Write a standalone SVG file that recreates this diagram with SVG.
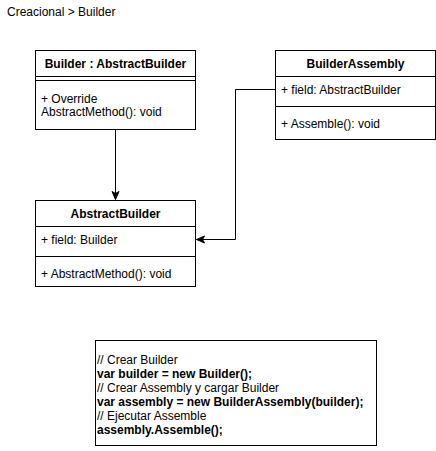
<svg xmlns="http://www.w3.org/2000/svg" width="436" height="451" viewBox="0 0 436 451">
<style>
text{font-family:"Liberation Sans",Arial,sans-serif;font-size:12px;fill:#000}
.b{font-weight:bold}
.c{text-anchor:middle}
.box{fill:#fff;stroke:#000;stroke-width:1}
.ln{stroke:#000;stroke-width:1;fill:none}
</style>
<defs>
<marker id="arr" viewBox="0 0 10 10" refX="9" refY="5" markerWidth="10" markerHeight="10" markerUnits="userSpaceOnUse" orient="auto">
<path d="M1,1.5 L9,5 L1,8.5 L3,5 Z" fill="#000" stroke="#000" stroke-width="1"/>
</marker>
</defs>
<rect width="436" height="451" fill="#fff"/>
<text x="7" y="16">Creacional &gt; Builder</text>
<g id="connectors">
<path class="ln" d="M115.5,129.5 L115.5,199.5" marker-end="url(#arr)"/>
<path class="ln" d="M275.5,89.5 L235.5,89.5 L235.5,239.5 L196.5,239.5" marker-end="url(#arr)"/>
</g>
<g id="builder">
<rect class="box" x="35.5" y="50.5" width="160" height="79"/>
<line class="ln" x1="35.5" y1="76.5" x2="195.5" y2="76.5"/>
<line class="ln" x1="35.5" y1="80.5" x2="195.5" y2="80.5"/>
<text class="b c" x="115.5" y="68">Builder : AbstractBuilder</text>
<text x="41" y="102.5">+ Override</text>
<text x="41" y="116">AbstractMethod(): void</text>
</g>
<g id="builderAssembly">
<rect class="box" x="275.5" y="50.5" width="160" height="89"/>
<line class="ln" x1="275.5" y1="76.5" x2="435.5" y2="76.5"/>
<line class="ln" x1="275.5" y1="106.5" x2="435.5" y2="106.5"/>
<text class="b c" x="355.5" y="68">BuilderAssembly</text>
<text x="281" y="94">+ field: AbstractBuilder</text>
<text x="281" y="128">+ Assemble(): void</text>
</g>
<g id="abstractBuilder">
<rect class="box" x="35.5" y="200.5" width="160" height="86"/>
<line class="ln" x1="35.5" y1="226.5" x2="195.5" y2="226.5"/>
<line class="ln" x1="35.5" y1="256.5" x2="195.5" y2="256.5"/>
<text class="b c" x="115.5" y="218">AbstractBuilder</text>
<text x="41" y="244">+ field: Builder</text>
<text x="41" y="278">+ AbstractMethod(): void</text>
</g>
<g id="code">
<rect class="box" x="95.5" y="340.5" width="281" height="105"/>
<text x="97" y="364">// Crear Builder</text>
<text class="b" x="97" y="378">var builder = new Builder();</text>
<text x="97" y="392">// Crear Assembly y cargar Builder</text>
<text class="b" x="97" y="406">var assembly = new BuilderAssembly(builder);</text>
<text x="97" y="420">// Ejecutar Assemble</text>
<text class="b" x="97" y="434">assembly.Assemble();</text>
</g>
</svg>
